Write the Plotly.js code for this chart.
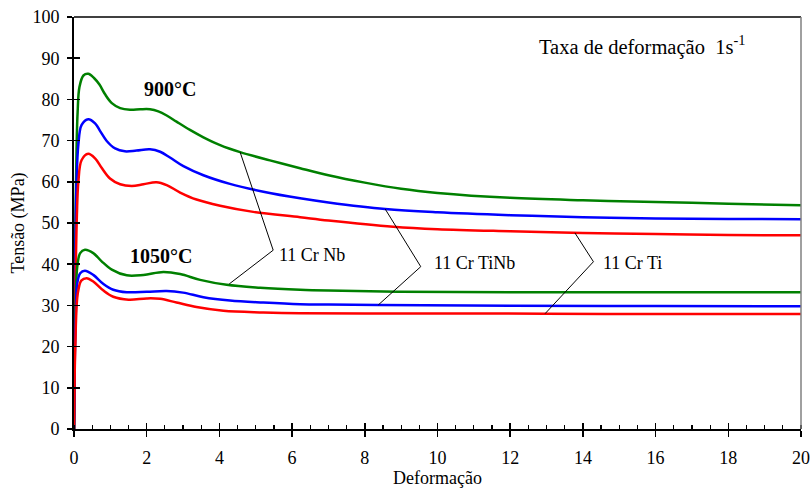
<!DOCTYPE html>
<html>
<head>
<meta charset="utf-8">
<script src="https://cdn.plot.ly/plotly-3.0.1.min.js"></script>
<style>html,body{margin:0;padding:0;background:#fff}#chart{width:811px;height:488px}</style>
</head>
<body>
<div id="chart"></div>
<script>
// ---- Data (strain / stress in MPa) ----
const strain900Nb   = [0,0.02,0.04,0.07,0.1,0.15,0.26,0.39,0.55,0.7,0.85,1.04,1.27,1.54,1.82,2.09,2.32,2.55,2.82,3.19,3.56,4.02,4.57,5.39,6.22,7,8,9,10,12,14,16,18,20];
const stress900Nb   = [0,25,50,68,77,83,85.8,86.2,85.2,83.6,81.3,79.1,77.9,77.5,77.6,77.6,77.1,76.1,74.6,72.6,70.8,68.9,67.2,65.2,63.3,61.6,59.8,58.3,57.3,56.1,55.5,55.1,54.7,54.3];

const strain900TiNb = [0,0.02,0.04,0.07,0.12,0.21,0.39,0.58,0.72,0.9,1.13,1.4,1.72,2.09,2.37,2.64,3.01,3.56,4.29,5.21,6.22,7,8.56,10,12,14,16,18,20];
const stress900TiNb = [0,22,45,60,69,73.8,75.2,74.2,72.3,69.9,68.1,67.4,67.6,67.9,67.3,65.9,63.8,61.6,59.5,57.6,56.0,55.0,53.4,52.6,51.9,51.4,51.1,51.0,50.9];

const strain900Ti   = [0,0.02,0.05,0.08,0.12,0.21,0.39,0.58,0.76,0.99,1.27,1.59,1.91,2.27,2.55,2.92,3.37,4.02,4.93,6.22,7,8.78,10,12,14,16,18,20];
const stress900Ti   = [0,20,40,52,60,65.3,66.8,65.7,63.4,60.8,59.4,59.0,59.4,59.9,59.2,57.4,55.7,54.2,52.7,51.4,50.6,49.1,48.5,48.0,47.6,47.3,47.1,47.0];

const strain1050Nb   = [0,0.02,0.05,0.09,0.17,0.3,0.53,0.76,1.04,1.45,1.91,2.46,2.92,3.47,4.2,5.12,6.22,7,8.97,12,16,20];
const stress1050Nb   = [0,18,32,39.4,42.7,43.5,42.7,40.7,38.7,37.3,37.4,38.1,37.6,36.2,35.0,34.3,33.8,33.6,33.3,33.2,33.2,33.2];

const strain1050TiNb = [0,0.02,0.05,0.09,0.17,0.3,0.53,0.81,1.08,1.45,2.0,2.55,3.0,3.56,4.29,5.21,6.22,7,8.37,12,16,20];
const stress1050TiNb = [0,16,28,35.4,37.8,38.4,37.4,35.2,33.8,33.2,33.3,33.5,33.1,32.0,31.2,30.7,30.3,30.2,30.1,29.9,29.85,29.8];

const strain1050Ti   = [0,0.02,0.05,0.08,0.12,0.2,0.35,0.53,0.81,1.08,1.5,2.0,2.37,2.82,3.37,4.11,5.21,6.22,8,12.96,16,20];
const stress1050Ti   = [0,14,25,31,33.7,36.0,36.6,35.8,33.6,32.1,31.4,31.7,31.6,30.7,29.6,28.7,28.3,28.1,28.05,28.0,27.9,27.9];

const xTicks = [0,2,4,6,8,10,12,14,16,18,20];
const yTicks = [0,10,20,30,40,50,60,70,80,90,100];

// leader lines (data coords): curve at 900 °C -> label elbow -> curve at 1050 °C
const leaderNbX   = [4.57, 5.48, 4.27],  leaderNbY   = [67.2, 43.4, 35.2];
const leaderTiNbX = [8.56, 9.54, 8.37],  leaderTiNbY = [53.4, 39.4, 30.1];
const leaderTiX   = [13.78, 14.29, 12.96], leaderTiY = [47.6, 40.6, 28.0];

const FONT = '"Liberation Serif", "Times New Roman", Times, serif';
const GREEN = '#008000', BLUE = '#0000ff', RED = '#ff0000';

function curve(x, y, color, name) {
  return {x: x, y: y, type: 'scatter', mode: 'lines', name: name,
          line: {color: color, width: 2.5, shape: 'spline', smoothing: 1},
          hoverinfo: 'x+y', showlegend: false};
}
function leader(x, y) {
  return {x: x, y: y, type: 'scatter', mode: 'lines',
          line: {color: '#000', width: 1}, hoverinfo: 'skip', showlegend: false};
}

const traces = [
  curve(strain900Nb, stress900Nb, GREEN, '11 Cr Nb 900°C'),
  curve(strain900TiNb, stress900TiNb, BLUE, '11 Cr TiNb 900°C'),
  curve(strain900Ti, stress900Ti, RED, '11 Cr Ti 900°C'),
  curve(strain1050Nb, stress1050Nb, GREEN, '11 Cr Nb 1050°C'),
  curve(strain1050TiNb, stress1050TiNb, BLUE, '11 Cr TiNb 1050°C'),
  curve(strain1050Ti, stress1050Ti, RED, '11 Cr Ti 1050°C'),
  leader(leaderNbX, leaderNbY),
  leader(leaderTiNbX, leaderTiNbY),
  leader(leaderTiX, leaderTiY),
  {x: [0], y: [0], xaxis: 'x2', yaxis: 'y2', type: 'scatter', mode: 'none', hoverinfo: 'skip', showlegend: false}
];

const layout = {
  width: 811, height: 488,
  margin: {l: 74, r: 10, t: 17, b: 59},
  paper_bgcolor: '#fff', plot_bgcolor: '#fff',
  font: {family: FONT, size: 18, color: '#000'},
  showlegend: false,
  xaxis: {
    range: [0, 20], tickvals: xTicks, ticktext: xTicks.map(String),
    showgrid: false, zeroline: false,
    showline: true, linecolor: '#000', linewidth: 1.5,
    ticks: 'outside', ticklen: 6, tickwidth: 1.5, tickcolor: '#000',
    minor: {dtick: 0.5, ticks: 'inside', ticklen: 4, tickwidth: 1.2, tickcolor: '#000', showgrid: false},
    ticklabelstandoff: 6,
    tickfont: {family: FONT, size: 18},
    title: {text: 'Deformação', font: {family: FONT, size: 18}, standoff: 2}
  },
  yaxis: {
    range: [0, 100], tickvals: yTicks, ticktext: yTicks.map(String),
    showgrid: false, zeroline: false,
    showline: true, linecolor: '#000', linewidth: 2,
    ticks: 'outside', ticklen: 5, tickwidth: 1.5, tickcolor: '#000',
    ticklabelstandoff: 4,
    tickfont: {family: FONT, size: 18},
    title: {text: 'Tensão (MPa)', font: {family: FONT, size: 18}, standoff: 3}
  },
  xaxis2: {
    overlaying: 'x', range: [0, 20], tickvals: xTicks, showticklabels: false,
    showgrid: false, zeroline: false, showline: false,
    ticks: 'inside', ticklen: 6, tickwidth: 1.5, tickcolor: '#000', side: 'bottom'
  },
  yaxis2: {
    overlaying: 'y', range: [0, 100], tickvals: yTicks, showticklabels: false,
    showgrid: false, zeroline: false, showline: false,
    ticks: 'inside', ticklen: 6, tickwidth: 1.5, tickcolor: '#000', side: 'left'
  },
  shapes: [
    {type: 'line', xref: 'paper', yref: 'paper', x0: 0, x1: 1, y0: 1, y1: 1, line: {color: '#000', width: 1.5}},
    {type: 'line', xref: 'paper', yref: 'paper', x0: 1, x1: 1, y0: 0, y1: 1, line: {color: '#808080', width: 1.5}}
  ],
  annotations: [
    {x: 2.64, y: 82.5, xref: 'x', yref: 'y', text: '<b>900°C</b>', showarrow: false,
     font: {family: FONT, size: 20}},
    {x: 2.39, y: 42.0, xref: 'x', yref: 'y', text: '<b>1050°C</b>', showarrow: false,
     font: {family: FONT, size: 20}},
    {x: 12.74, y: 93.0, xref: 'x', yref: 'y', xanchor: 'left', text: 'Taxa de deformação&nbsp;&nbsp;1s<sup>-1</sup>',
     showarrow: false, font: {family: FONT, size: 20.5}},
    {x: 5.58, y: 42.2, xref: 'x', yref: 'y', xanchor: 'left', text: '11 Cr Nb', showarrow: false,
     font: {family: FONT, size: 18}},
    {x: 9.85, y: 40.3, xref: 'x', yref: 'y', xanchor: 'left', text: '11 Cr TiNb', showarrow: false,
     font: {family: FONT, size: 18}},
    {x: 14.5, y: 40.3, xref: 'x', yref: 'y', xanchor: 'left', text: '11 Cr Ti', showarrow: false,
     font: {family: FONT, size: 18}}
  ]
};

Plotly.newPlot('chart', traces, layout, {staticPlot: true, displayModeBar: false});
</script>
</body>
</html>
